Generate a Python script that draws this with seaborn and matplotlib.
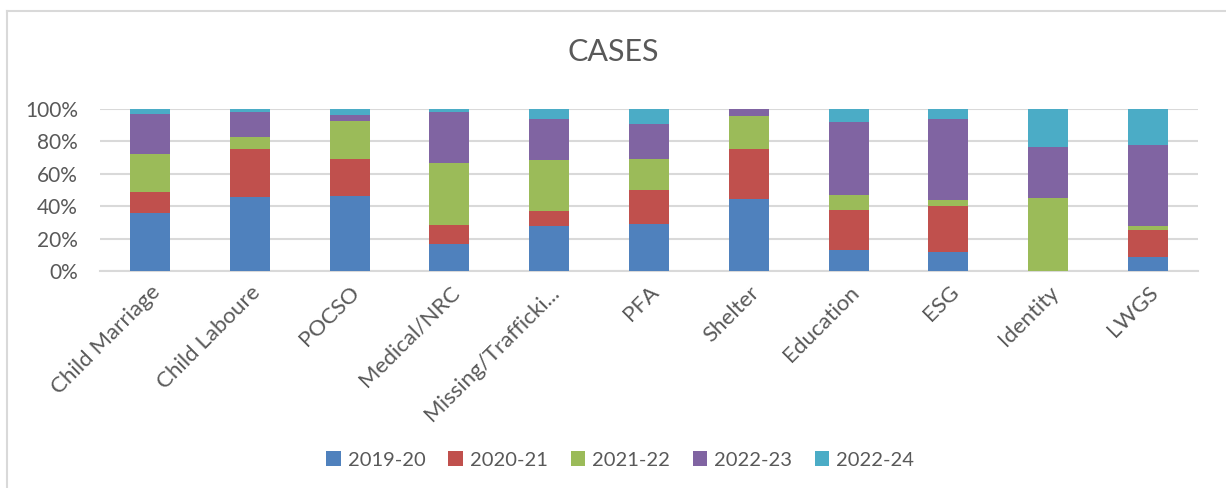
import numpy as np
import pandas as pd
import seaborn as sns
import matplotlib.pyplot as plt
from matplotlib.patches import Patch
from matplotlib.lines import Line2D
from matplotlib.ticker import PercentFormatter

categories = ["Child Marriage", "Child Laboure", "POCSO", "Medical/NRC", "Missing/Trafficki...",
              "PFA", "Shelter", "Education", "ESG", "Identity", "LWGS"]
series_names = ["2019-20", "2020-21", "2021-22", "2022-23", "2022-24"]
s2019_20 = [35.7, 45.6, 46.0, 16.7, 27.6, 28.9, 44.7, 13.2, 11.5, 0.0, 8.5]
s2020_21 = [13.2, 29.9, 22.9, 12.0, 9.7, 21.4, 30.8, 24.3, 28.7, 0.0, 17.1]
s2021_22 = [23.3, 7.2, 23.5, 38.1, 31.4, 19.0, 20.4, 9.7, 3.7, 44.9, 2.0]
s2022_23 = [24.5, 15.2, 3.9, 31.3, 24.9, 21.4, 4.1, 44.6, 49.7, 31.4, 49.9]
s2022_24 = [3.3, 2.1, 3.7, 1.9, 6.4, 9.3, 0.0, 8.2, 6.4, 23.7, 22.5]
colors = ["#4F81BD", "#C0504D", "#9BBB59", "#8064A2", "#4BACC6"]

plt.rcParams['font.family'] = ['Lato', 'DejaVu Sans']
text_color = "#595959"

series = [s2019_20, s2020_21, s2021_22, s2022_23, s2022_24]
vals = np.array(series, dtype=float)
vals = vals / vals.sum(axis=0) * 100.0
cum = np.cumsum(vals, axis=0)

fig = plt.figure(figsize=(12.26, 4.88), dpi=100)
ax = fig.add_axes([100/1226, 1 - 271/488, 1098/1226, 162/488])

for i in range(len(series_names) - 1, -1, -1):
    df = pd.DataFrame({"category": categories, "value": cum[i]})
    sns.barplot(data=df, x="category", y="value", color=colors[i], width=0.4,
                saturation=1, ax=ax, order=categories, zorder=3, edgecolor="none")

ax.set_ylim(0, 100)
ax.set_xlim(-0.5, len(categories) - 0.5)
ax.set_yticks([0, 20, 40, 60, 80, 100])
ax.yaxis.set_major_formatter(PercentFormatter(decimals=0))
ax.grid(axis="y", color="#D9D9D9", linewidth=1.5, zorder=0)
ax.set_axisbelow(True)
for s in ["top", "right", "left"]:
    ax.spines[s].set_visible(False)
ax.spines["bottom"].set_color("#D9D9D9")
ax.spines["bottom"].set_linewidth(1.5)
ax.tick_params(axis="both", length=0, colors=text_color)
ax.tick_params(axis="y", pad=16, labelsize=15)
ax.set_xlabel("")
ax.set_ylabel("")
ax.set_xticks(range(len(categories)))
ax.set_xticklabels(categories, rotation=45, ha="right", rotation_mode="anchor",
                   color=text_color, fontsize=16)
ax.tick_params(axis="x", pad=8)

fig.text(0.5, 1 - 52/488, "CASES", ha="center", va="center", fontsize=22, color=text_color)

handles = [Patch(facecolor=c, edgecolor="none") for c in colors]
fig.legend(handles, series_names, loc="center", bbox_to_anchor=(0.506, 1 - 460/488), ncol=5,
           frameon=False, fontsize=14.5, handlelength=0.7, handleheight=0.7,
           handletextpad=0.35, columnspacing=1.15, labelcolor=text_color)

fig.add_artist(Line2D([7/1226, 7/1226], [0, 1 - 11/488], transform=fig.transFigure,
                      color="#D9D9D9", linewidth=1.5))
fig.add_artist(Line2D([7/1226, 1], [1 - 11/488, 1 - 11/488], transform=fig.transFigure,
                      color="#D9D9D9", linewidth=1.5))

fig.savefig("out.png", dpi=100, facecolor="white")
